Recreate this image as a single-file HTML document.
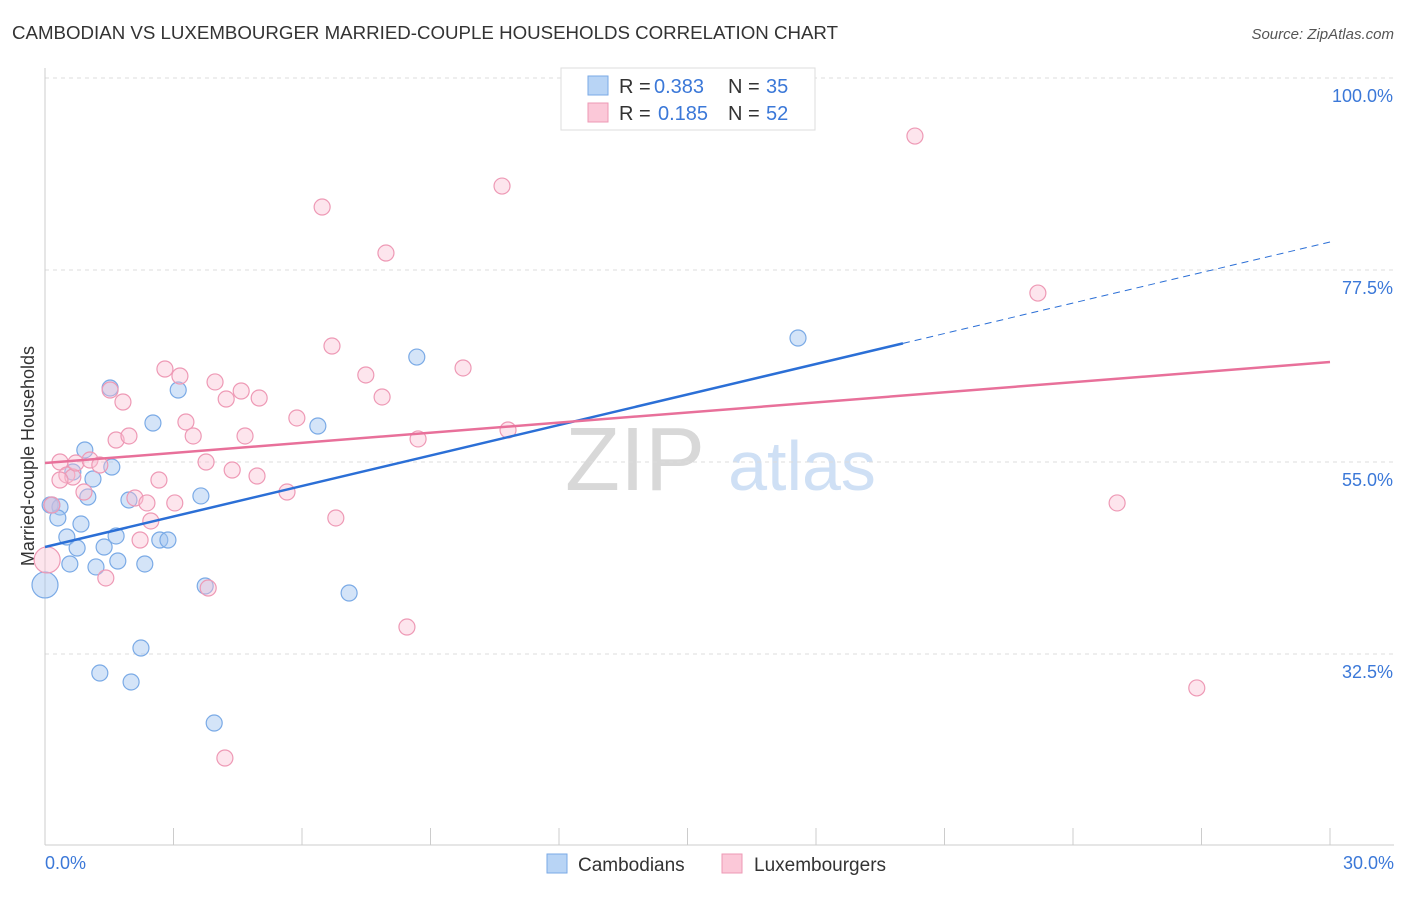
<!DOCTYPE html>
<html><head><meta charset="utf-8"><style>
body{margin:0;background:#fff;font-family:"Liberation Sans",sans-serif;}
svg text{font-family:"Liberation Sans",sans-serif;}
</style></head><body>
<svg id="chart" width="1406" height="892">
<text x="12" y="39" font-size="18" fill="#333" textLength="826" lengthAdjust="spacingAndGlyphs">CAMBODIAN VS LUXEMBOURGER MARRIED-COUPLE HOUSEHOLDS CORRELATION CHART</text>
<text x="1394" y="39" font-size="15" fill="#555" font-style="italic" text-anchor="end">Source: ZipAtlas.com</text>
<text x="34" y="456" font-size="18" fill="#333" transform="rotate(-90 34 456)" text-anchor="middle">Married-couple Households</text>
<text x="635" y="490" font-size="90" fill="#d8d8d8" font-family="Liberation Serif" text-anchor="middle">ZIP</text>
<text x="802" y="490" font-size="70" fill="#cfe0f5" text-anchor="middle">atlas</text>
<g id="grid"></g><g id="marks"></g>
<g>
<rect x="561" y="68" width="254" height="62" fill="#fff" stroke="#ddd"/>
<rect x="588" y="76" width="20" height="19" fill="#b8d4f5" stroke="#7aaae6"/>
<rect x="588" y="103" width="20" height="19" fill="#fbc8d8" stroke="#ee99b5"/>
<text x="619" y="93" font-size="20" fill="#333">R =</text>
<text x="654" y="93" font-size="20" fill="#3b78d8">0.383</text>
<text x="728" y="93" font-size="20" fill="#333">N =</text>
<text x="766" y="93" font-size="20" fill="#3b78d8">35</text>
<text x="619" y="120" font-size="20" fill="#333">R =</text>
<text x="658" y="120" font-size="20" fill="#3b78d8">0.185</text>
<text x="728" y="120" font-size="20" fill="#333">N =</text>
<text x="766" y="120" font-size="20" fill="#3b78d8">52</text>
</g>
<g>
<rect x="547" y="854" width="20" height="19" fill="#b8d4f5" stroke="#7aaae6"/>
<text x="578" y="871" font-size="19" fill="#333">Cambodians</text>
<rect x="722" y="854" width="20" height="19" fill="#fbc8d8" stroke="#ee99b5"/>
<text x="754" y="871" font-size="19" fill="#333">Luxembourgers</text>
</g>
</svg>
<script>
const blueX=[0.12,0.35,0.30,0.93,0.65,1.12,1.56,1.00,0.84,0.51,0.75,0.58,1.19,1.38,1.70,1.66,1.96,1.52,2.52,2.33,2.68,2.87,3.11,3.64,3.74,2.24,1.28,2.01,3.95,6.37,7.10,8.68,17.58,0.0,0.16];
const blueY=[49.96,49.73,48.44,56.41,53.83,53.01,54.41,50.90,47.73,46.21,44.92,43.05,42.70,45.04,43.40,46.33,50.55,63.67,59.57,43.05,45.86,45.86,63.44,51.02,40.47,33.20,30.27,29.22,24.41,59.22,39.65,67.30,69.53,40.59,49.96];
const pinkX=[0.05,0.35,0.51,0.65,0.72,0.91,1.05,1.28,1.42,1.66,1.52,1.82,1.96,2.10,2.22,2.38,2.47,2.66,2.80,3.03,3.15,3.29,3.46,3.76,3.81,3.97,4.20,4.23,4.37,4.58,4.67,4.95,5.00,5.65,5.88,6.47,6.70,6.79,7.49,7.87,7.96,8.45,8.71,9.76,10.67,10.81,20.31,23.18,25.03,26.89,0.35,0.16];
const pinkY=[43.52,55.0,53.48,53.24,54.88,51.48,55.23,54.65,41.41,57.58,63.44,62.03,58.05,50.78,45.86,50.20,48.09,52.89,65.90,50.20,65.08,59.69,58.05,55.0,40.23,64.38,20.31,62.38,54.06,63.32,58.05,53.36,62.50,51.48,60.16,84.88,68.59,48.44,65.20,62.62,79.49,35.66,57.70,66.02,87.34,58.75,93.20,74.80,50.20,28.52,52.89,49.96];
const yTicks=[100,77.5,55,32.5];
const yTickLabels=["100.0%","77.5%","55.0%","32.5%"];
const blueTrend=[45.04,80.78]; const blueSolidEnd=20.03;
const pinkTrend=[54.88,66.72];
const NS="http://www.w3.org/2000/svg";
const sx=v=>45+v/30*1285, sy=v=>462-(v-55)*8.533;
function mk(t,a,p){const e=document.createElementNS(NS,t);for(const k in a)e.setAttribute(k,a[k]);p.appendChild(e);return e;}
const g=document.getElementById('grid'), m=document.getElementById('marks');
yTicks.forEach((t,i)=>{
 const l=mk('line',{x1:45,x2:1394,y1:sy(t),y2:sy(t),stroke:'#ddd','stroke-dasharray':'4,4'},g);
 
 
 const tx=mk('text',{x:1393,y:sy(t)+24,'font-size':18,fill:'#3b78d8','text-anchor':'end'},g);
 tx.textContent=yTickLabels[i];
 
 
});
mk('line',{x1:45,x2:45,y1:68,y2:845,stroke:'#ccc'},g);
mk('line',{x1:45,x2:1394,y1:845,y2:845,stroke:'#ccc'},g);
for(let i=0;i<=10;i++){const x=sx(i*3);const t=mk('line',{x1:x,x2:x,y1:828,y2:845,stroke:'#ccc'},g);
 
 }
const x0=mk('text',{x:45,y:869,'font-size':18,fill:'#3b78d8'},g);x0.textContent='0.0%';


const x1=mk('text',{x:1394,y:869,'font-size':18,fill:'#3b78d8','text-anchor':'end'},g);x1.textContent='30.0%';


blueX.forEach((x,i)=>{const c=mk('circle',{cx:sx(x),cy:sy(blueY[i]),r:(x===0?13:8),fill:'rgba(160,196,240,0.45)',stroke:'#7aaae6','stroke-width':1.2},m);
 
 });
pinkX.forEach((x,i)=>{const c=mk('circle',{cx:sx(x),cy:sy(pinkY[i]),r:(i===0?13:8),fill:'rgba(250,190,210,0.4)',stroke:'#ee99b5','stroke-width':1.2},m);
 
 });
const by=x=>blueTrend[0]+(blueTrend[1]-blueTrend[0])*x/30;
const bl=mk('line',{x1:sx(0),y1:sy(blueTrend[0]),x2:sx(blueSolidEnd),y2:sy(by(blueSolidEnd)),stroke:'#2b6fd6','stroke-width':2.5},m);


const bd=mk('line',{x1:sx(blueSolidEnd),y1:sy(by(blueSolidEnd)),x2:sx(30),y2:sy(blueTrend[1]),stroke:'#2b6fd6','stroke-width':1,'stroke-dasharray':'7,5'},m);


const pl=mk('line',{x1:sx(0),y1:sy(pinkTrend[0]),x2:sx(30),y2:sy(pinkTrend[1]),stroke:'#e8709a','stroke-width':2.5},m);


</script>
</body></html>
